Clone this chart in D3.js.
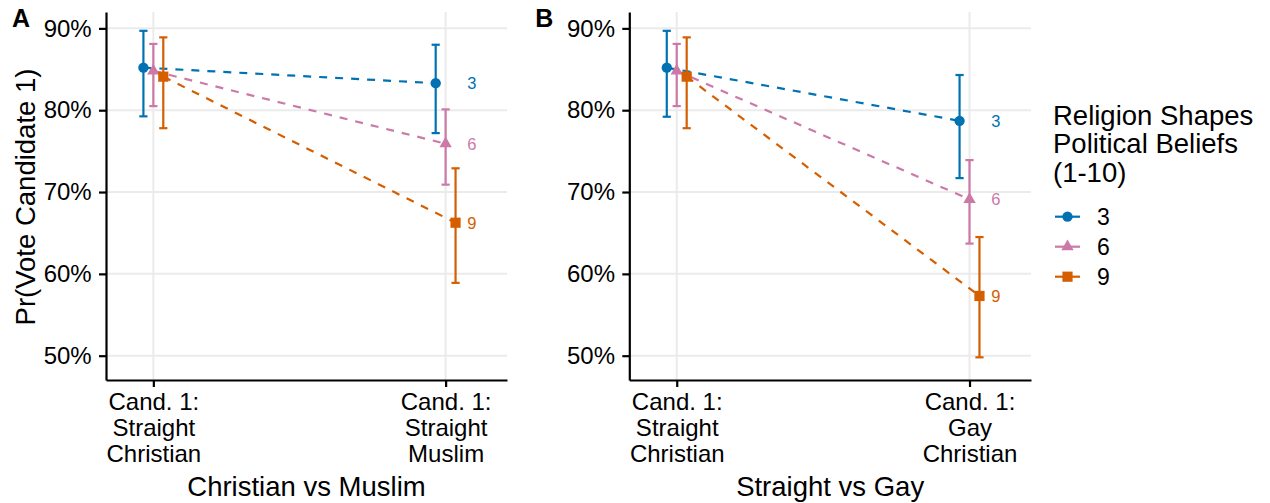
<!DOCTYPE html>
<html>
<head>
<meta charset="utf-8">
<script src="https://cdn.jsdelivr.net/npm/d3@7"></script>
<style>
	body { margin: 0; background: #fff; }
	svg { display: block; font-family: "Liberation Sans", Arial, Helvetica, sans-serif; }
	.grid line { stroke: #ebebeb; stroke-width: 2; }
	.axis path, .axis line { stroke: #000; stroke-width: 2.2; }
	.axis text { fill: #000; font-size: 24px; }
</style>
</head>
<body>
<svg id="chart" width="1270" height="503"></svg>
<script>

// religiosity levels (legend) and their colours / shapes
var levels = ["3", "6", "9"];
var colors = ["#0072B2", "#CC79A7", "#D55E00"];
var shapes = [d3.symbolCircle, d3.symbolTriangle, d3.symbolSquare];
var shapeSizes = [84, 66, 104];

var yTicks = [50, 60, 70, 80, 90];

// panel A : Christian vs Muslim  (rows = level 3,6,9 ; cols = profile 1,2)
var labelsA = [["Cand. 1:", "Straight", "Christian"], ["Cand. 1:", "Straight", "Muslim"]];
var estA  = [[85.2, 83.3], [84.8, 75.9], [84.1, 66.25]];
var lowA  = [[79.25, 77.2], [80.5, 70.9], [77.8, 58.9]];
var highA = [[89.7, 88.0], [88.1, 80.1], [88.9, 72.9]];

// panel B : Straight vs Gay
var labelsB = [["Cand. 1:", "Straight", "Christian"], ["Cand. 1:", "Gay", "Christian"]];
var estB  = [[85.2, 78.7], [84.8, 69.1], [84.1, 57.3]];
var lowB  = [[79.2, 71.7], [80.5, 63.7], [77.8, 49.8]];
var highB = [[89.7, 84.3], [88.1, 73.9], [88.9, 64.5]];

var svg = d3.select("#chart");
var dodge = [-0.034, 0, 0.034];

var y = d3.scaleLinear().domain([47.03, 92]).range([380, 12]);

function panel(left, right, tag, title, labels, est, low, high){
	var g = svg.append("g");
	var x = d3.scaleLinear().domain([0.838, 2.21]).range([left, right]);

	// grid
	var grid = g.append("g").attr("class", "grid");
	grid.selectAll(".h").data(yTicks).enter().append("line")
		.attr("x1", left).attr("x2", right)
		.attr("y1", function(d){ return y(d); })
		.attr("y2", function(d){ return y(d); });
	grid.selectAll(".v").data([1, 2]).enter().append("line")
		.attr("y1", y.range()[0]).attr("y2", y.range()[1])
		.attr("x1", function(d){ return x(d); })
		.attr("x2", function(d){ return x(d); });

	var rows = levels.map(function(l, i){
		return [0, 1].map(function(j){
			return {lev: i, x: j + 1 + dodge[i], est: est[i][j], low: low[i][j], high: high[i][j]};
		});
	});

	var line = d3.line()
		.x(function(d){ return x(d.x); })
		.y(function(d){ return y(d.est); });

	g.selectAll(".trend").data(rows).enter().append("path")
		.attr("d", line)
		.attr("fill", "none")
		.attr("stroke", function(d, i){ return colors[i]; })
		.attr("stroke-width", 2.2)
		.attr("stroke-dasharray", "8,8");

	var pts = [].concat.apply([], rows);
	var cap = 0.014;

	var bars = g.selectAll(".bar").data(pts).enter().append("g")
		.attr("stroke", function(d){ return colors[d.lev]; })
		.attr("stroke-width", 2.2);
	bars.append("line")
		.attr("x1", function(d){ return x(d.x); })
		.attr("x2", function(d){ return x(d.x); })
		.attr("y1", function(d){ return y(d.low); })
		.attr("y2", function(d){ return y(d.high); });
	bars.append("line")
		.attr("x1", function(d){ return x(d.x - cap); })
		.attr("x2", function(d){ return x(d.x + cap); })
		.attr("y1", function(d){ return y(d.low); })
		.attr("y2", function(d){ return y(d.low); });
	bars.append("line")
		.attr("x1", function(d){ return x(d.x - cap); })
		.attr("x2", function(d){ return x(d.x + cap); })
		.attr("y1", function(d){ return y(d.high); })
		.attr("y2", function(d){ return y(d.high); });

	g.selectAll(".pt").data(pts).enter().append("path")
		.attr("d", function(d){ return d3.symbol().type(shapes[d.lev]).size(shapeSizes[d.lev])(); })
		.attr("transform", function(d){ return "translate(" + x(d.x) + "," + y(d.est) + ")"; })
		.attr("fill", function(d){ return colors[d.lev]; });

	// end labels
	g.selectAll(".lab").data(rows).enter().append("text")
		.attr("x", x(2.09))
		.attr("y", function(d){ return y(d[1].est); })
		.attr("dy", "0.36em")
		.attr("text-anchor", "middle")
		.attr("font-size", 16.5)
		.attr("fill", function(d, i){ return colors[i]; })
		.text(function(d, i){ return levels[i]; });

	// axes
	g.append("g").attr("class", "axis")
		.attr("transform", "translate(" + left + ",0)")
		.call(d3.axisLeft(y).tickValues(yTicks).tickFormat(function(d){ return d + "%"; })
			.tickSize(7).tickSizeOuter(0).tickPadding(7.3));

	var xa = g.append("g").attr("class", "axis")
		.attr("transform", "translate(0," + y.range()[0] + ")")
		.call(d3.axisBottom(x).tickValues([1, 2]).tickFormat("").tickSize(7).tickSizeOuter(0));
	xa.selectAll(".tick text").remove();
	xa.selectAll(".tick").append("text")
		.attr("text-anchor", "middle")
		.each(function(d){
			var t = d3.select(this);
			labels[d - 1].forEach(function(s, k){
				t.append("tspan").attr("x", 0).attr("y", 29.5 + k * 26).text(s);
			});
		});

	g.append("text")
		.attr("x", (left + right) / 2).attr("y", 496)
		.attr("text-anchor", "middle")
		.attr("font-size", 27.5)
		.text(title);

	g.append("text")
		.attr("x", left - 94).attr("y", 27)
		.attr("font-size", 25).attr("font-weight", "bold")
		.text(tag);
}

panel(106, 507, "A", "Christian vs Muslim", labelsA, estA, lowA, highA);
panel(629.3, 1031, "B", "Straight vs Gay", labelsB, estB, lowB, highB);

// y title
svg.append("text")
	.attr("transform", "translate(35,197) rotate(-90)")
	.attr("text-anchor", "middle")
	.attr("font-size", 27.5)
	.text("Pr(Vote Candidate 1)");

// legend
var legend = svg.append("g").attr("transform", "translate(1053,0)");
legend.selectAll(".lt").data(["Religion Shapes", "Political Beliefs", "(1-10)"]).enter().append("text")
	.attr("x", 0)
	.attr("y", function(d, i){ return 125 + i * 28.3; })
	.attr("font-size", 27.5)
	.text(function(d){ return d; });

var keys = legend.selectAll(".key").data(levels).enter().append("g")
	.attr("transform", function(d, i){ return "translate(0," + (216.7 + i * 30) + ")"; });
keys.append("line")
	.attr("x1", 2).attr("x2", 27)
	.attr("stroke", function(d, i){ return colors[i]; })
	.attr("stroke-width", 2.2);
keys.append("path")
	.attr("d", function(d, i){ return d3.symbol().type(shapes[i]).size(shapeSizes[i])(); })
	.attr("transform", "translate(14.5,0)")
	.attr("fill", function(d, i){ return colors[i]; });
keys.append("text")
	.attr("x", 44).attr("dy", "0.36em")
	.attr("font-size", 23)
	.text(function(d){ return d; });

</script>
</body>
</html>
